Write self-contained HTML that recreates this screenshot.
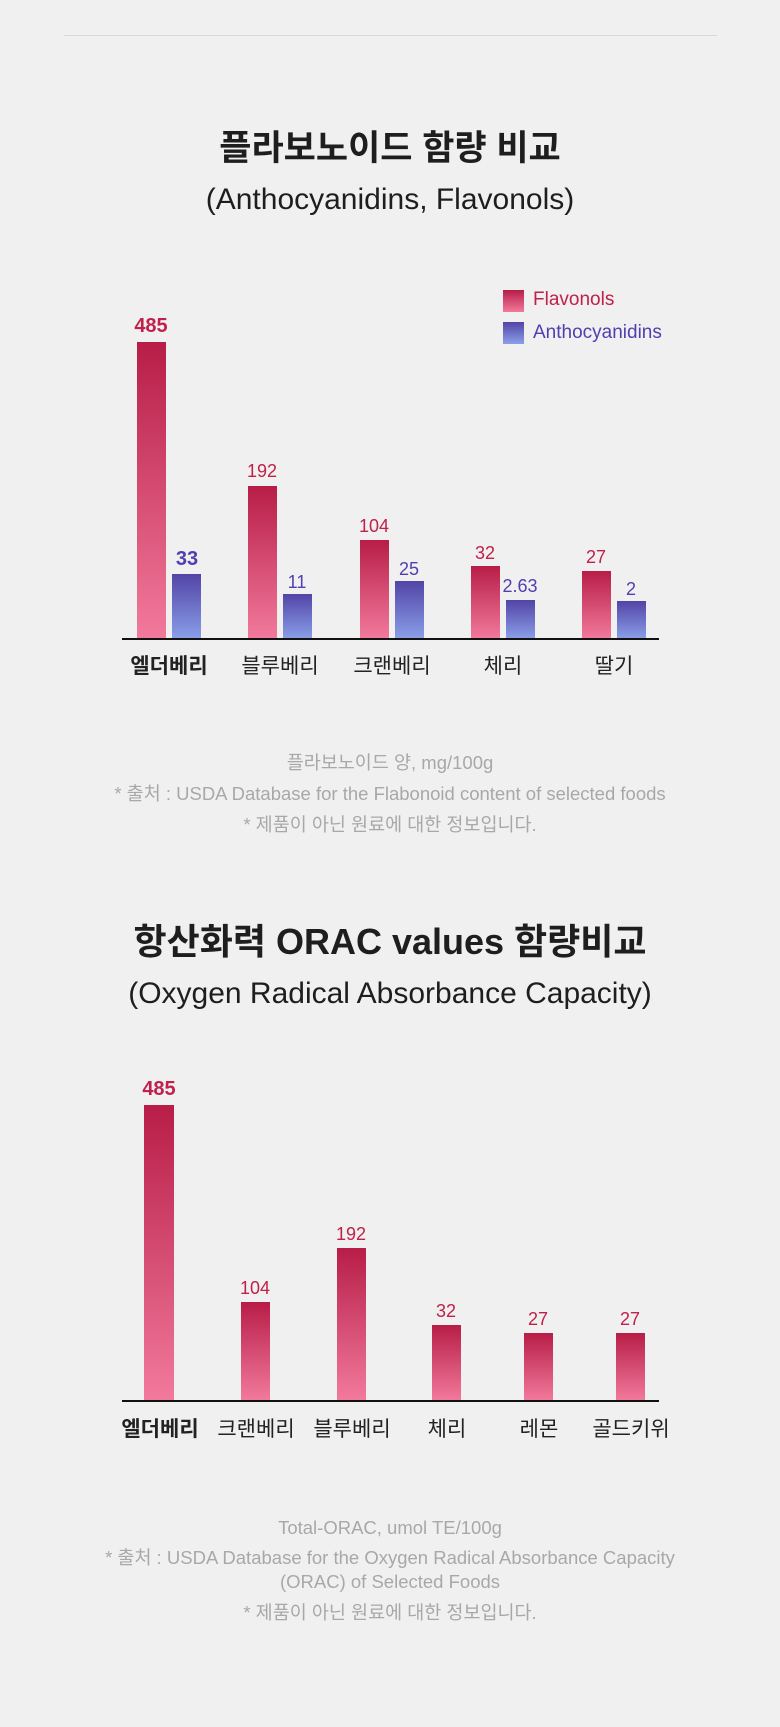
<!DOCTYPE html>
<html><head><meta charset="utf-8"><style>
*{margin:0;padding:0;box-sizing:border-box}
body{width:780px;height:1727px;background:#f0f0f1;position:relative;overflow:hidden;font-family:"Liberation Sans","Noto Sans CJK KR",sans-serif;color:#1e1e1e}
.a{position:absolute}
.c{position:absolute;left:0;width:780px;text-align:center;white-space:nowrap}
.r{background:linear-gradient(#b71d47,#f27a9c)}
.b{background:linear-gradient(#5244a6,#8a9fe9)}
.v{position:absolute;width:60px;text-align:center;font-size:18px;color:#c0204a;line-height:1}
.vb{color:#4f3fb0}
.cat{position:absolute;width:110px;text-align:center;font-size:21px;color:#222;line-height:1}
.fn{font-size:18.5px;color:#a8a8a8;line-height:1}
</style></head><body>
<div class="a" style="left:64px;top:35px;width:653px;height:1px;background:#d8d8d8"></div>

<div class="c" style="top:131px;font-size:35px;font-weight:bold;line-height:1">플라보노이드 함량 비교</div>
<div class="c" style="top:185px;font-size:30px;line-height:1">(Anthocyanidins, Flavonols)</div>

<div class="a r" style="left:503px;top:290px;width:21px;height:22px"></div>
<div class="a" style="left:533px;top:290px;font-size:19px;color:#c0204a;line-height:1">Flavonols</div>
<div class="a b" style="left:503px;top:322px;width:21px;height:22px"></div>
<div class="a" style="left:533px;top:323px;font-size:19px;color:#4f3fb0;line-height:1">Anthocyanidins</div>

<div class="a r" style="left:137px;top:342px;width:29px;height:297px"></div>
<div class="a b" style="left:172px;top:574px;width:29px;height:65px"></div>
<div class="a r" style="left:248px;top:486px;width:29px;height:153px"></div>
<div class="a b" style="left:283px;top:594px;width:29px;height:45px"></div>
<div class="a r" style="left:360px;top:540px;width:29px;height:99px"></div>
<div class="a b" style="left:395px;top:581px;width:29px;height:58px"></div>
<div class="a r" style="left:471px;top:566px;width:29px;height:73px"></div>
<div class="a b" style="left:506px;top:600px;width:29px;height:39px"></div>
<div class="a r" style="left:582px;top:571px;width:29px;height:68px"></div>
<div class="a b" style="left:617px;top:601px;width:29px;height:38px"></div>
<div class="a" style="left:122px;top:638px;width:537px;height:2px;background:#111"></div>

<div class="v" style="left:121px;top:316px;font-size:20px;font-weight:bold">485</div>
<div class="v vb" style="left:157px;top:549px;font-size:20px;font-weight:bold">33</div>
<div class="v" style="left:232px;top:462px">192</div>
<div class="v vb" style="left:267px;top:573px">11</div>
<div class="v" style="left:344px;top:517px">104</div>
<div class="v vb" style="left:379px;top:560px">25</div>
<div class="v" style="left:455px;top:544px">32</div>
<div class="v vb" style="left:490px;top:577px">2.63</div>
<div class="v" style="left:566px;top:548px">27</div>
<div class="v vb" style="left:601px;top:580px">2</div>

<div class="cat" style="left:114px;top:656px;font-weight:bold">엘더베리</div>
<div class="cat" style="left:225px;top:656px">블루베리</div>
<div class="cat" style="left:337px;top:656px">크랜베리</div>
<div class="cat" style="left:448px;top:656px">체리</div>
<div class="cat" style="left:559px;top:656px">딸기</div>

<div class="c fn" style="top:754px">플라보노이드 양, mg/100g</div>
<div class="c fn" style="top:785px">* 출처 : USDA Database for the Flabonoid content of selected foods</div>
<div class="c fn" style="top:816px">* 제품이 아닌 원료에 대한 정보입니다.</div>

<div class="c" style="top:924px;font-size:36px;font-weight:bold;line-height:1">항산화력 ORAC values 함량비교</div>
<div class="c" style="top:979px;font-size:30px;line-height:1">(Oxygen Radical Absorbance Capacity)</div>

<div class="a r" style="left:144px;top:1105px;width:30px;height:296px"></div>
<div class="a r" style="left:241px;top:1302px;width:29px;height:99px"></div>
<div class="a r" style="left:337px;top:1248px;width:29px;height:153px"></div>
<div class="a r" style="left:432px;top:1325px;width:29px;height:76px"></div>
<div class="a r" style="left:524px;top:1333px;width:29px;height:68px"></div>
<div class="a r" style="left:616px;top:1333px;width:29px;height:68px"></div>
<div class="a" style="left:122px;top:1400px;width:537px;height:2px;background:#111"></div>

<div class="v" style="left:129px;top:1079px;font-size:20px;font-weight:bold">485</div>
<div class="v" style="left:225px;top:1279px">104</div>
<div class="v" style="left:321px;top:1225px">192</div>
<div class="v" style="left:416px;top:1302px">32</div>
<div class="v" style="left:508px;top:1310px">27</div>
<div class="v" style="left:600px;top:1310px">27</div>

<div class="cat" style="left:105px;top:1419px;font-weight:bold">엘더베리</div>
<div class="cat" style="left:201px;top:1419px">크랜베리</div>
<div class="cat" style="left:297px;top:1419px">블루베리</div>
<div class="cat" style="left:392px;top:1419px">체리</div>
<div class="cat" style="left:484px;top:1419px">레몬</div>
<div class="cat" style="left:576px;top:1419px">골드키위</div>

<div class="c fn" style="top:1519px">Total-ORAC, umol TE/100g</div>
<div class="c fn" style="top:1549px">* 출처 : USDA Database for the Oxygen Radical Absorbance Capacity</div>
<div class="c fn" style="top:1573px">(ORAC) of Selected Foods</div>
<div class="c fn" style="top:1604px">* 제품이 아닌 원료에 대한 정보입니다.</div>
</body></html>
